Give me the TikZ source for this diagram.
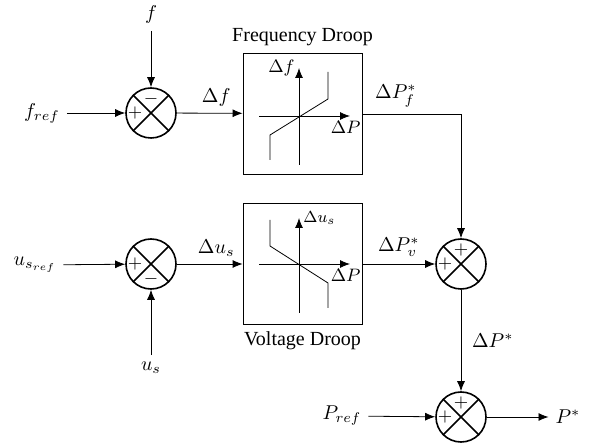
\documentclass[tikz,border=0pt]{standalone}
\usepackage{fontspec}
\setmainfont{Liberation Serif}
\usetikzlibrary{arrows.meta, positioning, calc}

\begin{document}
\begin{tikzpicture}[x=0.5pt, y=-0.5pt, >={Latex[length=5pt, width=4pt]},
    sumnode/.style={circle, draw, line width=0.8pt, minimum size=25pt, inner sep=0pt},
    block/.style={draw, thin, minimum width=59.5pt, minimum height=60.5pt, inner sep=0pt},
    sgn/.style={font=\small, inner sep=0pt},
    small/.style={font=\small, inner sep=1pt}]
    \useasboundingbox (0,0) rectangle (599,448);

    % summing junctions
    \node[sumnode] (s1) at (151,113) {};
    \node[sumnode] (s2) at (151,264) {};
    \node[sumnode] (s3) at (461,264) {};
    \node[sumnode] (s4) at (461,417) {};
    \foreach \s in {s1,s2,s3,s4}
        \draw[line width=0.8pt] (\s.north west) -- (\s.south east)
            (\s.north east) -- (\s.south west);
    \node[sgn] at ($(s1)+(0,-14)$) {$-$};
    \node[sgn] at ($(s1)+(-16,0)$) {$+$};
    \node[sgn] at ($(s2)+(-16,0)$) {$+$};
    \node[sgn] at ($(s2)+(0,15)$) {$-$};
    \node[sgn] at ($(s3)+(0,-14)$) {$+$};
    \node[sgn] at ($(s3)+(-16,0)$) {$+$};
    \node[sgn] at ($(s4)+(0,-14)$) {$+$};
    \node[sgn] at ($(s4)+(-16,0)$) {$+$};

    % droop blocks
    \node[block] (fbox) at (302.5,113.5) {};
    \node[above=0pt of fbox] {Frequency Droop};
    \node[block] (vbox) at (302.5,264) {};
    \node[below=0pt of vbox] {Voltage Droop};

    % frequency droop characteristic
    \draw[->] (259,116) -- (350,116);
    \node[small, anchor=north east] at (363,119) {$\Delta P$};
    \draw[->] (299,165) -- (299,68) node[small, left=1pt] {$\Delta f$};
    \draw (270,160) -- (270,135) -- (328,99) -- (328,72);

    % voltage droop characteristic
    \draw[->] (259,264) -- (350,264);
    \node[small, anchor=north east] at (363,267) {$\Delta P$};
    \draw[->] (299,313) -- (299,218) node[font=\footnotesize, inner sep=1pt, right=1pt] {$\Delta u_s$};
    \draw (270,220) -- (270,246) -- (328,283) -- (328,308);

    % inputs and outputs
    \node (f) at (151,15) {$f$};
    \node (fref) at (42,113) {$f_{ref}$};
    \node (usref) at (35,265) {$u_{s_{ref}}$};
    \node (us) at (151,368) {$u_s$};
    \node (pref) at (342,416) {$P_{ref}$};
    \node (pstar) at (568,417) {$P^{*}$};

    % connections
    \draw[->] (f) -- (s1);
    \draw[->] (fref) -- (s1);
    \draw[->] (s1) -- node[above, pos=0.6] {$\Delta f$} (fbox);
    \draw[->] (fbox.east |- 0,114) -| node[above, pos=0.17] {$\Delta P_f^{*}$} (s3);
    \draw[->] (usref) -- (s2);
    \draw[->] (us) -- (s2);
    \draw[->] (s2) -- node[above, pos=0.6] {$\Delta u_s$} (vbox);
    \draw[->] (vbox) -- node[above] {$\Delta P_v^{*}$} (s3);
    \draw[->] (s3) -- node[right=2pt] {$\Delta P^{*}$} (s4);
    \draw[->] (pref) -- (s4);
    \draw[->] (s4) -- (pstar);
\end{tikzpicture}
\end{document}
